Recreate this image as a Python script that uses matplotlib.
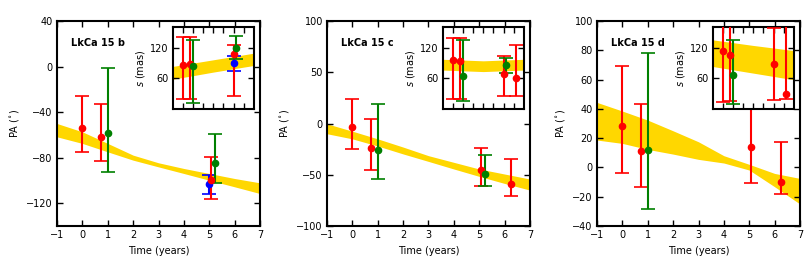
import numpy as np
import matplotlib
matplotlib.use("Agg")
import matplotlib.pyplot as plt

plt.rcParams['font.family'] = ['DejaVu Sans']
plt.rcParams['font.size'] = 7
plt.rcParams['mathtext.default'] = 'regular'

# epochs (years) and instrument colours for each planet
t_b = [0, 0.75, 1.0, 5.0, 5.07, 5.22]
c_b = ['r', 'r', 'g', 'b', 'r', 'g']
t_c = [0, 0.75, 1.0, 5.07, 5.22, 6.25]
c_c = ['r', 'r', 'g', 'r', 'g', 'r']
t_d = [0, 0.75, 1.0, 5.07, 6.25]
c_d = ['r', 'r', 'g', 'r', 'r']

# position angle (deg): value, lower end, upper end
pa_b = [-54, -62, -58, -103, -100, -85]
pa_b_lo = [-75, -83, -93, -111.5, -116.5, -102]
pa_b_hi = [-25.5, -33, -1.5, -95, -79, -59.5]
pa_c = [-3.5, -23.5, -26, -45, -49, -59]
pa_c_lo = [-25, -45, -54, -61, -61, -71]
pa_c_hi = [24, 4, 19.5, -24, -31, -35]
pa_d = [28, 11, 12, 14, -10]
pa_d_lo = [-3.5, -13.5, -28.5, -10.5, -18]
pa_d_hi = [69, 43, 78, 45, 17.5]

# separation (mas): value, lower end, upper end
s_b = [85, 87, 83, 89, 107, 120]
s_b_lo = [20, 20, 12, 74, 25, 97]
s_b_hi = [140, 140, 135, 104, 125, 143]
s_c = [96, 93, 65, 68.5, 86, 60]
s_c_lo = [19, 19, 15.5, 25, 71, 25]
s_c_hi = [139.5, 139.5, 135, 104, 100, 125]
s_d = [113, 105, 67, 87, 29]
s_d_lo = [13, 16, 10, 17.5, 20]
s_d_hi = [175, 175, 135, 158, 175]

# model bands
band_t = [-1, 0, 1, 2, 3, 4, 5, 6, 7]
band_b_lo = [-61.7, -67.5, -74.9, -82.2, -88.1, -93.9, -99.8, -105.6, -111.5]
band_b_hi = [-50, -57.3, -67.5, -77.8, -84.5, -89.5, -93.9, -98.3, -102.1]
band_c_lo = [-10, -15, -22, -29.7, -37, -44.4, -51.6, -58.5, -65]
band_c_hi = [-0.3, -7.5, -15, -23, -31.4, -37.9, -44.4, -49.3, -54.2]
band_d_lo = [18.7, 16.4, 12.3, 9.1, 5.5, 3.0, -1.8, -13.2, -25]
band_d_hi = [44.4, 38.5, 32.3, 25.0, 17.5, 8.0, 2.1, -4.1, -7.5]

sband_t = [-1, 3, 7]
sband_b_lo = [58, 72, 85]
sband_b_hi = [83, 96, 109]
sband_c_lo = [76, 73, 76]
sband_c_hi = [97, 94, 97]
sband_d_lo = [83, 70, 57]
sband_d_hi = [135, 124, 114]

panels = [
    ("LkCa 15 b", t_b, c_b, (pa_b, pa_b_lo, pa_b_hi), (s_b, s_b_lo, s_b_hi),
     (band_b_lo, band_b_hi), (sband_b_lo, sband_b_hi), (-140, 40), [-120, -80, -40, 0, 40]),
    ("LkCa 15 c", t_c, c_c, (pa_c, pa_c_lo, pa_c_hi), (s_c, s_c_lo, s_c_hi),
     (band_c_lo, band_c_hi), (sband_c_lo, sband_c_hi), (-100, 100), [-100, -50, 0, 50, 100]),
    ("LkCa 15 d", t_d, c_d, (pa_d, pa_d_lo, pa_d_hi), (s_d, s_d_lo, s_d_hi),
     (band_d_lo, band_d_hi), (sband_d_lo, sband_d_hi), (-40, 100), [-40, -20, 0, 20, 40, 60, 80, 100]),
]

gold = '#ffd700'
fig = plt.figure(figsize=(8.09, 2.73), dpi=100)
lefts = [57, 327, 597]


def style(ax):
    for sp in ax.spines.values():
        sp.set_linewidth(1.5)
    ax.tick_params(direction='in', top=True, right=True, length=4, width=1, pad=3)


def points(ax, t, cols, vals, lo, hi):
    for ti, ci, v, l, h in zip(t, cols, vals, lo, hi):
        ax.errorbar(ti, v, yerr=[[v - l], [h - v]], fmt='o', color=ci, ms=4.5,
                    elinewidth=1.5, capsize=5, capthick=1.2, zorder=3)


for left, (name, t, cols, pa, sep, band, sband, ylim, yt) in zip(lefts, panels):
    ax = fig.add_axes([left / 809, 47 / 273, 203 / 809, 205 / 273])
    style(ax)
    ax.fill_between(band_t, band[0], band[1], color=gold, lw=0, zorder=1)
    points(ax, t, cols, *pa)
    ax.set_xlim(-1, 7)
    ax.set_ylim(*ylim)
    ax.set_xticks(range(-1, 8))
    ax.set_yticks(yt)
    ax.set_xlabel("Time (years)")
    ax.set_ylabel(r"PA ($^{\circ}$)")
    ax.text(0.07, 0.88, name, transform=ax.transAxes, fontweight='bold', fontsize=7)

    ins = fig.add_axes([(left + 115.5) / 809, 164 / 273, 81.5 / 809, 82 / 273])
    style(ins)
    ins.fill_between(sband_t, sband[0], sband[1], color=gold, lw=0, zorder=1)
    points(ins, t, cols, *sep)
    ins.set_xlim(-1, 7)
    ins.set_ylim(0, 160)
    ins.set_xticks(range(0, 7))
    ins.set_xticklabels([])
    ins.set_yticks([60, 120])
    ins.set_ylabel(r"$\it{s}$ (mas)", labelpad=2)

fig.savefig("out.png", dpi=100)
